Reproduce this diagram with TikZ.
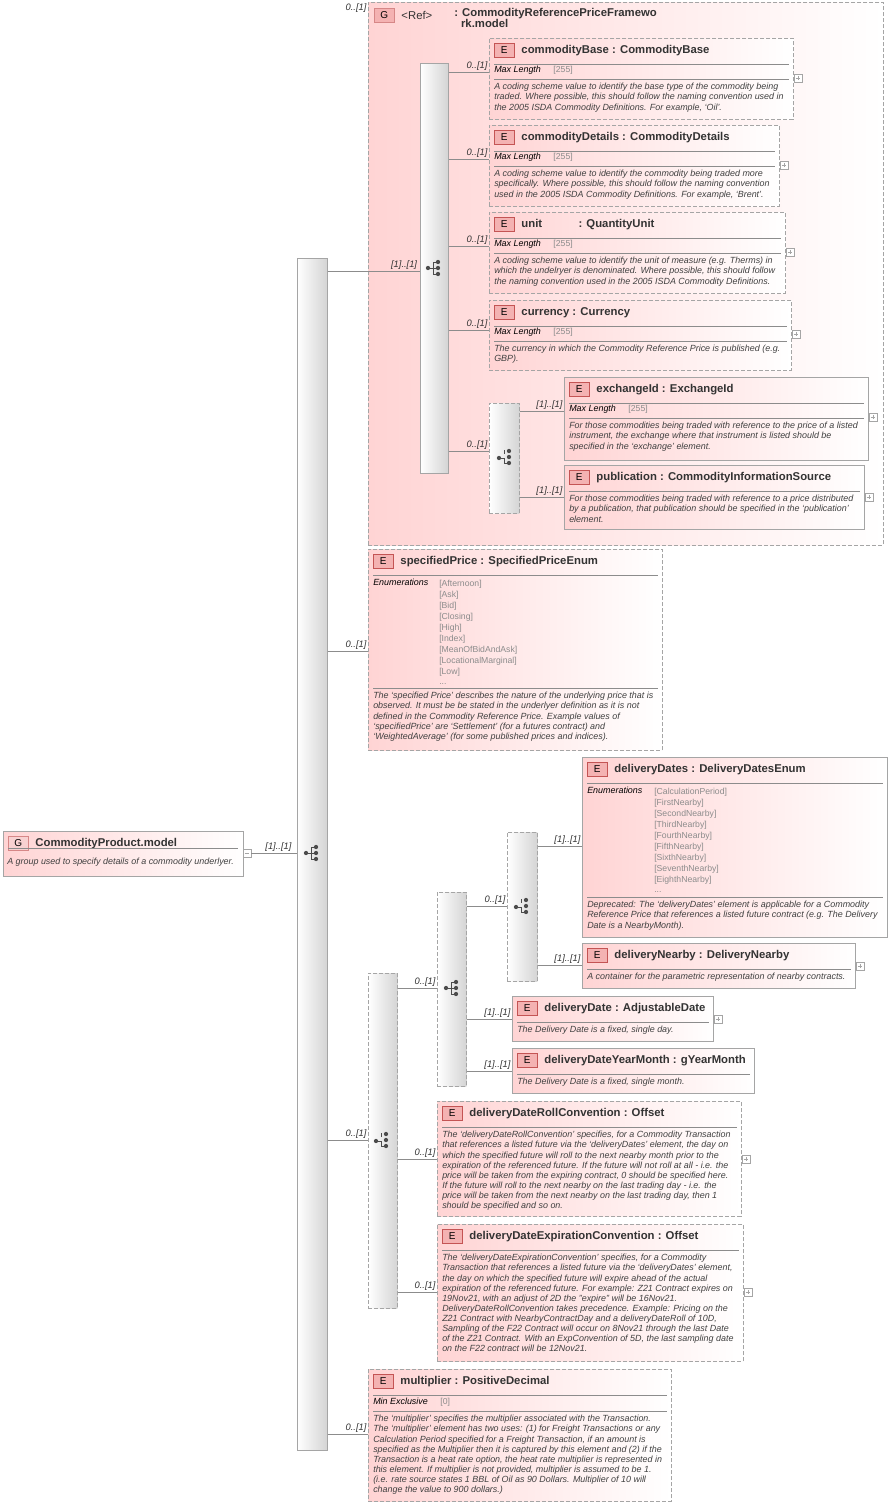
\documentclass[tikz,border=0pt]{standalone}
\usepackage{fontspec}
\setmainfont{Liberation Sans}
\usetikzlibrary{positioning}

\definecolor{rose}{RGB}{255,212,212}
\definecolor{badgefill}{RGB}{244,178,178}
\definecolor{badgeline}{RGB}{196,84,84}
\definecolor{edge}{RGB}{165,165,165}
\definecolor{rule}{RGB}{140,140,140}
\definecolor{enumgray}{RGB}{140,140,140}
\definecolor{barfill}{RGB}{212,212,212}

\tikzset{
	box/.style={draw=edge, left color=rose, right color=white, inner sep=0pt, anchor=north west},
	opt/.style={box, dash pattern=on 3pt off 1.5pt, line width=0.7pt},
	req/.style={box, line width=0.8pt},
	bar/.style={draw=edge, left color=white, right color=barfill, inner sep=0pt, anchor=north west},
	optbar/.style={bar, dash pattern=on 3pt off 1.5pt, line width=0.7pt},
	badge/.style={draw=badgeline, fill=badgefill, font=\fontsize{7.5}{8}\selectfont, minimum width=15pt, minimum height=10.5pt, inner sep=0pt, anchor=north west},
	title/.style={font=\fontsize{8.5}{9.6}\selectfont\bfseries, text=black!80, inner sep=0pt, align=left},
	doc/.style={font=\fontsize{6.7}{7.6}\selectfont\itshape, text=black!75, inner sep=0pt, anchor=north west, align=left},
	facet/.style={font=\fontsize{6.7}{7.6}\selectfont\itshape, inner sep=0pt, anchor=north west},
	enum/.style={font=\fontsize{6.5}{8.2}\selectfont, text=enumgray, inner sep=0pt, anchor=north west, align=left},
	card/.style={font=\fontsize{7}{7.5}\selectfont\itshape, text=black!80, inner sep=1pt, anchor=south east},
	link/.style={draw=rule, line width=0.5pt},
	sep/.style={draw=rule, line width=0.5pt},
	plus/.style={draw=edge, fill=white, minimum size=6pt, inner sep=0pt,
		path picture={\draw[edge, line width=0.4pt] ([xshift=1.4pt]path picture bounding box.west) -- ([xshift=-1.4pt]path picture bounding box.east) ([yshift=-1.4pt]path picture bounding box.north) -- ([yshift=1.4pt]path picture bounding box.south);}},
	minus/.style={draw=edge, fill=white, minimum size=6pt, inner sep=0pt,
		path picture={\draw[edge, line width=0.4pt] ([xshift=1.4pt]path picture bounding box.west) -- ([xshift=-1.4pt]path picture bounding box.east);}},
	seqicon/.pic={
		\draw[black!70, line width=0.7pt] (-6,0) -- (-1,0) (-1,-6) -- (-1,6) (-1,-6) -- (4,-6) (-1,6) -- (4,6) (-1,0) -- (4,0);
		\fill[black!70] (-6,0) circle (1.6pt) (4,-6) circle (1.6pt) (4,0) circle (1.6pt) (4,6) circle (1.6pt);
	},
	choiceicon/.pic={
		\draw[black!70, line width=0.7pt] (-6,1) -- (-1,1) -- (-1,6) -- (4,6) (-1,-7) -- (-1,-3);
		\fill[black!70] (-6,1) circle (1.6pt) (4,-6) circle (1.6pt) (4,0) circle (1.6pt) (4,6) circle (1.6pt);
	},
}

% element box: name, x, y, width, height, style, title
\newcommand\elem[7]{%
	\node[#6, minimum width=#4*0.75pt, minimum height=#5*0.75pt] (#1) at (#2,#3) {};
	\node[badge] (#1-b) at ([shift={(5,5)}]#1.north west) {E};
	\node[title, right=5pt of #1-b] (#1-t) {#7};
	\draw[sep] ([shift={(5,26)}]#1.north west) -- ([shift={(-5,26)}]#1.north east);
}
% facet row: box, offset, label, value
\newcommand\facetrow[4]{%
	\node[facet] (#1-f) at ([shift={(5,#2)}]#1.north west) {#3};
	\node[enum, anchor=base west] at ([xshift=9pt]#1-f.base east) {#4};
	\draw[sep] ([shift={(5,#2+13)}]#1.north west) -- ([shift={(-5,#2+13)}]#1.north east);
}

\begin{document}
\begin{tikzpicture}[x=0.75pt, y=-0.75pt]
	\useasboundingbox (0,0) rectangle (892,1506);

	% root group
	\node[box, line width=0.7pt, minimum width=240*0.75pt, minimum height=45*0.75pt] (root) at (3,831) {};
	\node[badge, draw=badgeline!70, fill=badgefill!60] (root-b) at (8,836) {G};
	\node[title, right=5pt of root-b] {CommodityProduct.model};
	\draw[sep] (8,848) -- (238,848);
	\node[doc] at (7,858) {A group used to specify details of a commodity underlyer.};
	\node[minus] (root-m) at (247,853) {};

	% bars
	\node[bar, minimum width=30*0.75pt, minimum height=1192*0.75pt] (mainSeq) at (297,258) {};
	\pic at (312,853) {seqicon};
	\node[opt, minimum width=515*0.75pt, minimum height=543*0.75pt] (refGrp) at (368,2) {};
	\node[bar, minimum width=28*0.75pt, minimum height=410*0.75pt] (refSeq) at (420,63) {};
	\pic at (434,268) {seqicon};
	\node[optbar, minimum width=30*0.75pt, minimum height=110*0.75pt] (exChoice) at (489,403) {};
	\pic at (505,457) {choiceicon};
	\node[optbar, minimum width=29*0.75pt, minimum height=335*0.75pt] (delChoice) at (368,973) {};
	\pic at (382,1140) {choiceicon};
	\node[optbar, minimum width=29*0.75pt, minimum height=194*0.75pt] (delSeq) at (437,892) {};
	\pic at (452,988) {seqicon};
	\node[optbar, minimum width=30*0.75pt, minimum height=149*0.75pt] (datesChoice) at (507,832) {};
	\pic at (522,906) {choiceicon};

	% ref group title
	\node[badge, draw=badgeline!70] (refGrp-b) at (374,8) {G};
	\node[title, font=\fontsize{8.5}{9.6}\selectfont, right=5pt of refGrp-b] {<Ref>};
	\node[title, anchor=north west] at (454,8) {: CommodityReferencePriceFramewo\\[-1pt]\hspace{0.6em}rk.model};
	\node[card, anchor=north east] at (refGrp.north west) {0..[1]};

	% elements of the ref group
	\elem{cBase}{489}{38}{304}{81}{opt}{commodityBase : CommodityBase}
	\facetrow{cBase}{28}{Max Length}{[255]}
	\node[doc] at ([shift={(5,45)}]cBase.north west) {A coding scheme value to identify the base type of the commodity being\\ traded. Where possible, this should follow the naming convention used in\\ the 2005 ISDA Commodity Definitions. For example, `Oil'.};
	\node[plus] at ([shift={(4,40)}]cBase.north east) {};

	\elem{cDetails}{489}{125}{290}{81}{opt}{commodityDetails : CommodityDetails}
	\facetrow{cDetails}{28}{Max Length}{[255]}
	\node[doc] at ([shift={(5,45)}]cDetails.north west) {A coding scheme value to identify the commodity being traded more\\ specifically. Where possible, this should follow the naming convention\\ used in the 2005 ISDA Commodity Definitions. For example, `Brent'.};
	\node[plus] at ([shift={(4,40)}]cDetails.north east) {};

	\elem{unit}{489}{212}{296}{81}{opt}{unit\hspace{3.2em}: QuantityUnit}
	\facetrow{unit}{28}{Max Length}{[255]}
	\node[doc] at ([shift={(5,45)}]unit.north west) {A coding scheme value to identify the unit of measure (e.g. Therms) in\\ which the undelryer is denominated. Where possible, this should follow\\ the naming convention used in the 2005 ISDA Commodity Definitions.};
	\node[plus] at ([shift={(4,40)}]unit.north east) {};

	\elem{currency}{489}{300}{302}{70}{opt}{currency : Currency}
	\facetrow{currency}{28}{Max Length}{[255]}
	\node[doc] at ([shift={(5,45)}]currency.north west) {The currency in which the Commodity Reference Price is published (e.g.\\ GBP).};
	\node[plus] at ([shift={(4,34)}]currency.north east) {};

	\elem{exchId}{564}{377}{304}{83}{req}{exchangeId : ExchangeId}
	\facetrow{exchId}{28}{Max Length}{[255]}
	\node[doc] at ([shift={(5,45)}]exchId.north west) {For those commodities being traded with reference to the price of a listed\\ instrument, the exchange where that instrument is listed should be\\ specified in the `exchange' element.};
	\node[plus] at ([shift={(4,40)}]exchId.north east) {};

	\elem{publication}{564}{465}{300}{64}{req}{publication : CommodityInformationSource}
	\node[doc] at ([shift={(5,30)}]publication.north west) {For those commodities being traded with reference to a price distributed\\ by a publication, that publication should be specified in the `publication'\\ element.};
	\node[plus] at ([shift={(4,32)}]publication.north east) {};

	% specifiedPrice
	\elem{specPrice}{368}{549}{294}{201}{opt}{specifiedPrice : SpecifiedPriceEnum}
	\node[facet] at ([shift={(5,30)}]specPrice.north west) {Enumerations};
	\node[enum] at ([shift={(71,31)}]specPrice.north west) {[Afternoon]\\{}[Ask]\\{}[Bid]\\{}[Closing]\\{}[High]\\{}[Index]\\{}[MeanOfBidAndAsk]\\{}[LocationalMarginal]\\{}[Low]\\{}...};
	\draw[sep] ([shift={(5,139)}]specPrice.north west) -- ([shift={(-5,139)}]specPrice.north east);
	\node[doc] at ([shift={(5,143)}]specPrice.north west) {The `specified Price' describes the nature of the underlying price that is\\ observed. It must be be stated in the underlyer definition as it is not\\ defined in the Commodity Reference Price. Example values of\\ `specifiedPrice' are `Settlement' (for a futures contract) and\\ `WeightedAverage' (for some published prices and indices).};

	% delivery elements
	\elem{dDates}{582}{757}{305}{180}{req}{deliveryDates : DeliveryDatesEnum}
	\node[facet] at ([shift={(5,30)}]dDates.north west) {Enumerations};
	\node[enum] at ([shift={(72,31)}]dDates.north west) {[CalculationPeriod]\\{}[FirstNearby]\\{}[SecondNearby]\\{}[ThirdNearby]\\{}[FourthNearby]\\{}[FifthNearby]\\{}[SixthNearby]\\{}[SeventhNearby]\\{}[EighthNearby]\\{}...};
	\draw[sep] ([shift={(5,140)}]dDates.north west) -- ([shift={(-5,140)}]dDates.north east);
	\node[doc] at ([shift={(5,144)}]dDates.north west) {Deprecated: The `deliveryDates' element is applicable for a Commodity\\ Reference Price that references a listed future contract (e.g. The Delivery\\ Date is a NearbyMonth).};

	\elem{dNearby}{582}{943}{273}{45}{req}{deliveryNearby : DeliveryNearby}
	\node[doc] at ([shift={(5,30)}]dNearby.north west) {A container for the parametric representation of nearby contracts.};
	\node[plus] at ([shift={(4,23)}]dNearby.north east) {};

	\elem{dDate}{512}{996}{201}{45}{req}{deliveryDate : AdjustableDate}
	\node[doc] at ([shift={(5,30)}]dDate.north west) {The Delivery Date is a fixed, single day.};
	\node[plus] at ([shift={(4,23)}]dDate.north east) {};

	\elem{dYearMonth}{512}{1048}{242}{45}{req}{deliveryDateYearMonth : gYearMonth}
	\node[doc] at ([shift={(5,30)}]dYearMonth.north west) {The Delivery Date is a fixed, single month.};

	\elem{dRoll}{437}{1101}{304}{115}{opt}{deliveryDateRollConvention : Offset}
	\node[doc] at ([shift={(5,30)}]dRoll.north west) {The `deliveryDateRollConvention' specifies, for a Commodity Transaction\\ that references a listed future via the `deliveryDates' element, the day on\\ which the specified future will roll to the next nearby month prior to the\\ expiration of the referenced future. If the future will not roll at all - i.e. the\\ price will be taken from the expiring contract, 0 should be specified here.\\ If the future will roll to the next nearby on the last trading day - i.e. the\\ price will be taken from the next nearby on the last trading day, then 1\\ should be specified and so on.};
	\node[plus] at ([shift={(4,58)}]dRoll.north east) {};

	\elem{dExpiry}{437}{1224}{306}{137}{opt}{deliveryDateExpirationConvention : Offset}
	\node[doc] at ([shift={(5,30)}]dExpiry.north west) {The `deliveryDateExpirationConvention' specifies, for a Commodity\\ Transaction that references a listed future via the `deliveryDates' element,\\ the day on which the specified future will expire ahead of the actual\\ expiration of the referenced future. For example: Z21 Contract expires on\\ 19Nov21, with an adjust of 2D the "expire" will be 16Nov21.\\ DeliveryDateRollConvention takes precedence. Example: Pricing on the\\ Z21 Contract with NearbyContractDay and a deliveryDateRoll of 10D,\\ Sampling of the F22 Contract will occur on 8Nov21 through the last Date\\ of the Z21 Contract. With an ExpConvention of 5D, the last sampling date\\ on the F22 contract will be 12Nov21.};
	\node[plus] at ([shift={(4,68)}]dExpiry.north east) {};

	\elem{multiplier}{368}{1369}{303}{132}{opt}{multiplier : PositiveDecimal}
	\facetrow{multiplier}{29}{Min Exclusive}{[0]}
	\node[doc] at ([shift={(5,46)}]multiplier.north west) {The `multiplier' specifies the multiplier associated with the Transaction.\\ The `multiplier' element has two uses: (1) for Freight Transactions or any\\ Calculation Period specified for a Freight Transaction, if an amount is\\ specified as the Multiplier then it is captured by this element and (2) if the\\ Transaction is a heat rate option, the heat rate multiplier is represented in\\ this element. If multiplier is not provided, multiplier is assumed to be 1.\\ (i.e. rate source states 1 BBL of Oil as 90 Dollars. Multiplier of 10 will\\ change the value to 900 dollars.)};

	% entry points
	\coordinate (mainIn) at (297,853);
	\coordinate (refIn) at (420,271);
	\coordinate (cBaseIn) at (489,72);
	\coordinate (cDetailsIn) at (489,159);
	\coordinate (unitIn) at (489,246);
	\coordinate (currencyIn) at (489,330);
	\coordinate (exChoiceIn) at (489,451);
	\coordinate (exchIdIn) at (564,411);
	\coordinate (publicationIn) at (564,497);
	\coordinate (specPriceIn) at (368,651);
	\coordinate (delChoiceIn) at (368,1140);
	\coordinate (delSeqIn) at (437,988);
	\coordinate (datesChoiceIn) at (507,906);
	\coordinate (dDatesIn) at (582,846);
	\coordinate (dNearbyIn) at (582,965);
	\coordinate (dDateIn) at (512,1019);
	\coordinate (dYearMonthIn) at (512,1071);
	\coordinate (dRollIn) at (437,1159);
	\coordinate (dExpiryIn) at (437,1292);
	\coordinate (multiplierIn) at (368,1434);

	% connectors
	\draw[link] (root-m.east) -- (mainIn);
	\draw[link] (mainSeq.east |- refIn) -- (refIn);
	\foreach \c in {cBase, cDetails, unit, currency, exChoice}
		\draw[link] (refSeq.east |- \c In) -- (\c In);
	\foreach \c in {exchId, publication}
		\draw[link] (exChoice.east |- \c In) -- (\c In);
	\foreach \c in {specPrice, delChoice, multiplier}
		\draw[link] (mainSeq.east |- \c In) -- (\c In);
	\foreach \c in {delSeq, dRoll, dExpiry}
		\draw[link] (delChoice.east |- \c In) -- (\c In);
	\foreach \c in {datesChoice, dDate, dYearMonth}
		\draw[link] (delSeq.east |- \c In) -- (\c In);
	\foreach \c in {dDates, dNearby}
		\draw[link] (datesChoice.east |- \c In) -- (\c In);

	% cardinalities
	\node[card] at ([xshift=-3pt]mainIn) {[1]..[1]};
	\node[card] at ([xshift=-1pt]refIn) {[1]..[1]};
	\foreach \c in {cBase, cDetails, unit, currency, exChoice, specPrice, delChoice, multiplier, delSeq, datesChoice, dRoll, dExpiry}
		\node[card] at (\c In) {0..[1]};
	\foreach \c in {exchId, publication, dDates, dNearby, dDate, dYearMonth}
		\node[card] at (\c In) {[1]..[1]};
\end{tikzpicture}
\end{document}
